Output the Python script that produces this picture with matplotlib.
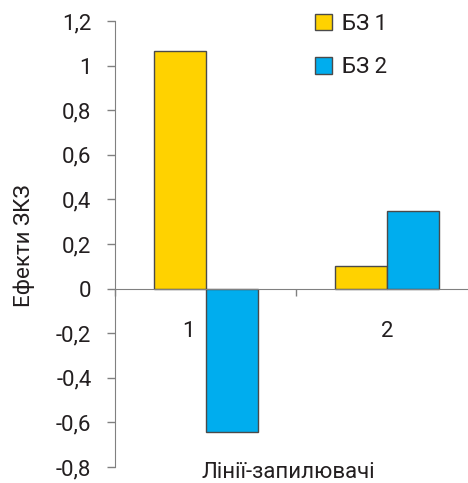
import matplotlib.pyplot as plt
import numpy as np
from matplotlib.ticker import FixedLocator
import matplotlib.transforms as mtransforms

# data
categories = ["1", "2"]
series_names = ["БЗ 1", "БЗ 2"]
bz1 = [1.065, 0.10]
bz2 = [-0.645, 0.35]
y_ticks = [-0.8, -0.6, -0.4, -0.2, 0, 0.2, 0.4, 0.6, 0.8, 1.0, 1.2]
y_tick_labels = ["-0,8", "-0,6", "-0,4", "-0,2", "0", "0,2", "0,4", "0,6", "0,8", "1", "1,2"]

colors = ["#FFD200", "#00ADEE"]
edge = "#4a4a4a"
text_c = "#231f20"
fs = 16

plt.rcParams['font.family'] = ['Roboto', 'DejaVu Sans']

fig = plt.figure(figsize=(4.68, 4.83), dpi=100)
W, H = 468, 483
ax = fig.add_axes([115 / W, (H - 467) / H, (478 - 115) / W, (467 - 21) / H])

x = np.arange(1, len(categories) + 1)
bw = 0.286
ax.bar(x - bw / 2, bz1, width=bw, color=colors[0], edgecolor=edge, linewidth=1.0, label=series_names[0])
ax.bar(x + bw / 2, bz2, width=bw, color=colors[1], edgecolor=edge, linewidth=1.0, label=series_names[1])

ax.set_xlim(0.5, 2.5)
ax.set_ylim(-0.8, 1.2)

for s in ["top", "right"]:
    ax.spines[s].set_visible(False)
ax.spines["bottom"].set_position(("data", 0))
ax.spines["bottom"].set_color("#808080")
ax.spines["left"].set_color("#808080")
ax.spines["left"].set_bounds(-0.8, 1.2)

ax.set_yticks(y_ticks)
ax.set_yticklabels(y_tick_labels)
ax.tick_params(axis="y", direction="out", length=6, width=1, color="#808080",
               labelsize=fs, labelcolor=text_c, pad=11)

ax.set_xticks(x)
ax.set_xticklabels(categories)
ax.xaxis.set_minor_locator(FixedLocator([0.5, 1.5, 2.5]))
ax.tick_params(axis="x", which="major", length=0, labelsize=fs, labelcolor=text_c, pad=23)
ax.tick_params(axis="x", which="minor", direction="out", length=5, width=1, color="#808080")
# the "1" label sits a bit left of its group in the original
lbl = ax.get_xticklabels()[0]
lbl.set_transform(lbl.get_transform() + mtransforms.ScaledTranslation(-17 / 100, 0, fig.dpi_scale_trans))

ax.set_ylabel("Ефекти ЗКЗ", fontsize=fs, color=text_c)
ax.yaxis.set_label_coords(-80 / 363, 0.497)
fig.text(288 / W, 1 - 473 / H, "Лінії-запилювачі", fontsize=fs, color=text_c,
         ha="center", va="center")

leg = ax.legend(loc="upper left", bbox_to_anchor=(306 / W, 1 - 5 / H), bbox_transform=fig.transFigure,
                frameon=False, fontsize=fs, handlelength=0.75, handleheight=0.75,
                handletextpad=0.45, labelspacing=1.0, borderaxespad=0)
for t in leg.get_texts():
    t.set_color(text_c)

fig.savefig("out.png", dpi=100)
